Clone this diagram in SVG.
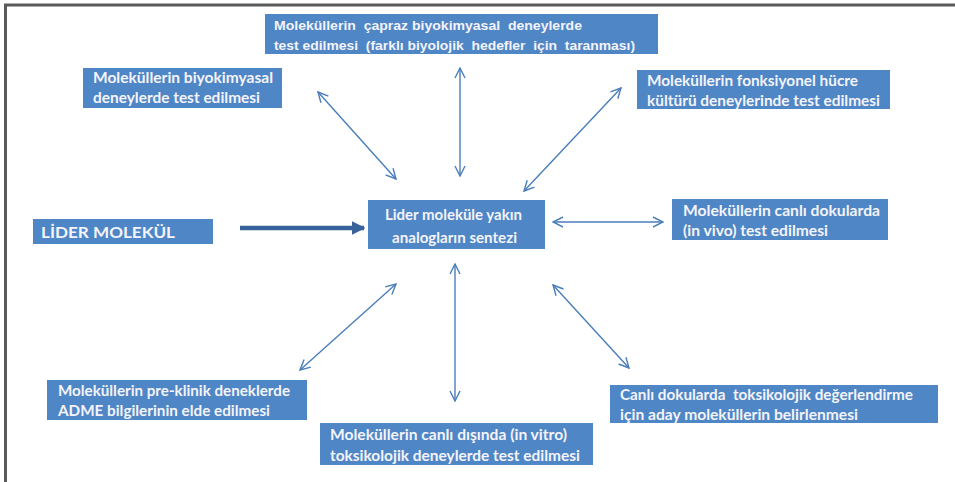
<svg xmlns="http://www.w3.org/2000/svg" width="955" height="482" viewBox="0 0 955 482">
<defs>
<style>
.box{fill:#4f86c6;}
.t{font-family:Lato,"Open Sans","Liberation Sans",sans-serif;font-weight:bold;font-size:14.5px;fill:#f4f4fa;}
.ta{font-family:"Liberation Sans",Arial,sans-serif;font-weight:bold;font-size:13px;fill:#f4f4fa;}
.c{stroke:#4a7ebb;stroke-width:1.4;fill:none;marker-start:url(#h);marker-end:url(#h);}
</style>
<marker id="h" viewBox="0 0 12 12" refX="11" refY="6" markerWidth="12" markerHeight="12" markerUnits="userSpaceOnUse" orient="auto-start-reverse">
<path d="M1,1 L11,6 L1,11" fill="none" stroke="#4a7ebb" stroke-width="1.4"/>
</marker>
<marker id="big" viewBox="0 0 10 10" refX="9" refY="5" markerWidth="3" markerHeight="3.2" orient="auto">
<path d="M0,0 L10,5 L0,10 z" fill="#37639a"/>
</marker>
</defs>
<rect width="955" height="482" fill="#ffffff"/>
<path d="M5.5,482 V5 H955" fill="none" stroke="#5a5a5a" stroke-width="3"/>

<g id="connectors">
<line x1="240" y1="228" x2="364" y2="228" stroke="#37639a" stroke-width="4.5" marker-end="url(#big)"/>
<line class="c" x1="318" y1="92" x2="396" y2="179"/>
<line class="c" x1="460" y1="68" x2="460" y2="176"/>
<line class="c" x1="621" y1="88" x2="524" y2="191"/>
<line class="c" x1="553" y1="222" x2="663" y2="222"/>
<line class="c" x1="396" y1="284" x2="300" y2="370"/>
<line class="c" x1="455" y1="264" x2="455" y2="401"/>
<line class="c" x1="553" y1="285" x2="629" y2="368"/>
</g>

<g id="n-capraz">
<rect class="box" x="265" y="14" width="393" height="40"/>
<text class="ta" x="274" y="30" textLength="308" lengthAdjust="spacingAndGlyphs" xml:space="preserve">Moleküllerin  çapraz biyokimyasal  deneylerde</text>
<text class="ta" x="274" y="50" textLength="361" lengthAdjust="spacingAndGlyphs" xml:space="preserve">test edilmesi  (farklı biyolojik  hedefler  için  taranması)</text>
</g>

<g id="n-biyokimyasal">
<rect class="box" x="83" y="68" width="199" height="40"/>
<text class="t" x="93" y="83" textLength="180" lengthAdjust="spacingAndGlyphs">Moleküllerin biyokimyasal</text>
<text class="t" x="93" y="103" textLength="167" lengthAdjust="spacingAndGlyphs">deneylerde test edilmesi</text>
</g>

<g id="n-hucre">
<rect class="box" x="637" y="70" width="253" height="39"/>
<text class="t" x="647" y="86" textLength="211" lengthAdjust="spacingAndGlyphs">Moleküllerin fonksiyonel hücre</text>
<text class="t" x="647" y="106" textLength="233" lengthAdjust="spacingAndGlyphs">kültürü deneylerinde test edilmesi</text>
</g>

<g id="n-lider">
<rect class="box" x="33" y="219" width="180" height="25"/>
<text class="t" x="41" y="238" font-size="18.5" textLength="134" lengthAdjust="spacingAndGlyphs">LİDER MOLEKÜL</text>
</g>

<g id="n-sentez">
<rect class="box" x="368" y="200" width="177" height="49"/>
<text class="t" x="385" y="220" textLength="137" lengthAdjust="spacingAndGlyphs">Lider moleküle yakın</text>
<text class="t" x="392" y="243" textLength="125" lengthAdjust="spacingAndGlyphs">analogların sentezi</text>
</g>

<g id="n-invivo">
<rect class="box" x="672" y="199" width="216" height="41"/>
<text class="t" x="683" y="216" textLength="197" lengthAdjust="spacingAndGlyphs">Moleküllerin canlı dokularda</text>
<text class="t" x="683" y="236" textLength="145" lengthAdjust="spacingAndGlyphs">(in vivo) test edilmesi</text>
</g>

<g id="n-adme">
<rect class="box" x="47" y="380" width="260" height="40"/>
<text class="t" x="58" y="396" textLength="232" lengthAdjust="spacingAndGlyphs">Moleküllerin pre-klinik deneklerde</text>
<text class="t" x="58" y="416" textLength="212" lengthAdjust="spacingAndGlyphs">ADME bilgilerinin elde edilmesi</text>
</g>

<g id="n-invitro">
<rect class="box" x="320" y="423" width="273" height="42"/>
<text class="t" x="330" y="440" textLength="237" lengthAdjust="spacingAndGlyphs">Moleküllerin canlı dışında (in vitro)</text>
<text class="t" x="330" y="461" textLength="250" lengthAdjust="spacingAndGlyphs">toksikolojik deneylerde test edilmesi</text>
</g>

<g id="n-aday">
<rect class="box" x="610" y="385" width="328" height="38"/>
<text class="t" x="620" y="400" textLength="293" lengthAdjust="spacingAndGlyphs" xml:space="preserve">Canlı dokularda  toksikolojik değerlendirme</text>
<text class="t" x="620" y="420" textLength="238" lengthAdjust="spacingAndGlyphs">için aday moleküllerin belirlenmesi</text>
</g>
</svg>
